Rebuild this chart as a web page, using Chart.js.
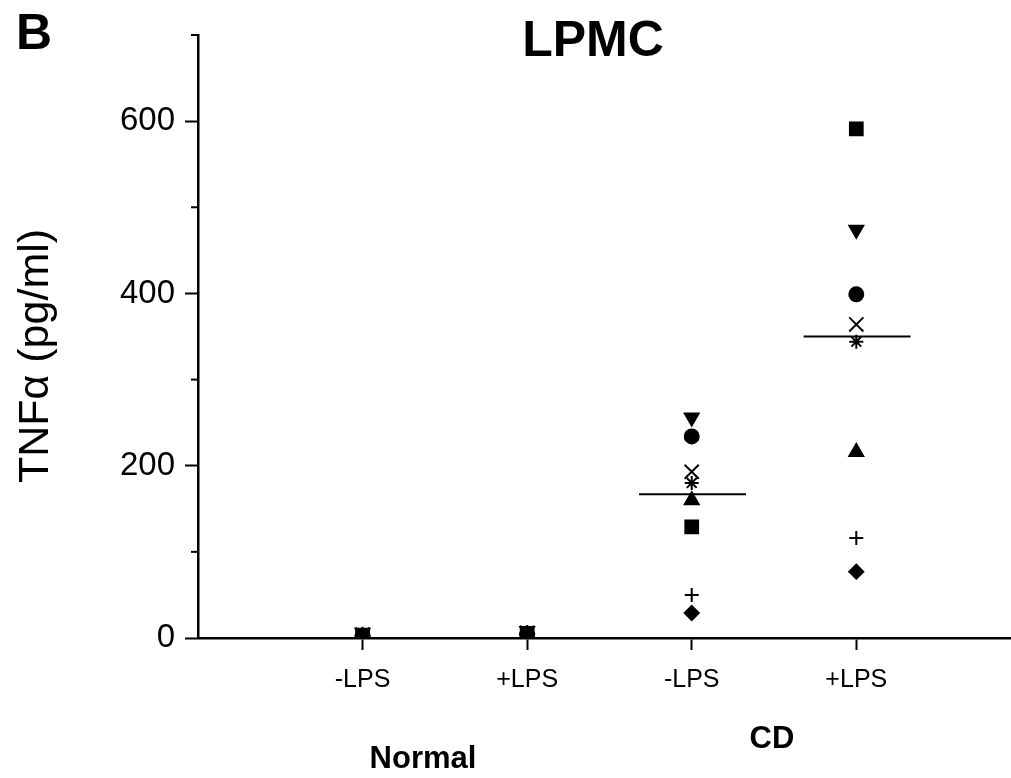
<!DOCTYPE html>
<html>
<head>
<meta charset="utf-8">
<title>LPMC TNFa</title>
<script src="https://cdn.jsdelivr.net/npm/chart.js@4.4.0/dist/chart.umd.min.js"></script>
<style>
  html, body { margin: 0; padding: 0; background: #fff; overflow: hidden; }
  #wrap { position: relative; width: 1011px; height: 778px; }
  #tnfChart { display: block; }
</style>
</head>
<body>
<div id="wrap"><canvas id="tnfChart"></canvas></div>
<script>
// x positions of the four groups and their tick labels
const groupPositions = [1, 2, 3, 4];
const groupLabels = ['-LPS', '+LPS', '-LPS', '+LPS'];

// one entry per subject (same order in every array)
const subjectStyles = ['rect', 'triangle-down', 'circle', 'crossRot', 'star', 'triangle', 'cross', 'rectRot'];
const normalMinusLPS = [3, 6, 2, 4, 5, 1, 2, 3];
const normalPlusLPS = [5, 8, 4, 6, 7, 3, 4, 5];
const cdMinusLPS = [129, 256, 234, 193, 180, 160, 50, 29];
const cdPlusLPS = [591, 474, 399, 364, 344, 216, 116, 77];

// horizontal median bars for the CD groups
const medianGroups = [3, 4];
const medianValues = [167, 350];

// y axis
const yTickValues = [0, 200, 400, 600];
const yMinorTicks = [100, 300, 500, 700];

const FONT = "'Liberation Sans', Arial, Helvetica, sans-serif";

function pointStyleFor(style) {
  if (style === 'triangle-down') return { pointStyle: 'triangle', rotation: 180 };
  return { pointStyle: style, rotation: 0 };
}

function radiusFor(style) {
  switch (style) {
    case 'rect': return 9;
    case 'triangle-down':
    case 'triangle': return 8;
    case 'circle': return 7;
    case 'rectRot': return 7;
    case 'cross': return 7;
    case 'crossRot': return 10;
    case 'star': return 7;
  }
  return 6;
}

// build one scatter dataset per subject
const subjectDatasets = subjectStyles.map((style, i) => {
  const ps = pointStyleFor(style);
  const values = [normalMinusLPS[i], normalPlusLPS[i], cdMinusLPS[i], cdPlusLPS[i]];
  return {
    label: 'Subject ' + (i + 1),
    data: values.map((v, k) => ({ x: groupPositions[k], y: v })),
    pointStyle: ps.pointStyle,
    rotation: ps.rotation,
    pointRadius: radiusFor(style),
    pointHoverRadius: radiusFor(style),
    backgroundColor: '#000',
    borderColor: '#000',
    borderWidth: 2,
    showLine: false
  };
});

// median bars, broken with a gap between groups
const medianData = [];
medianGroups.forEach((g, i) => {
  medianData.push({ x: g - 0.32, y: medianValues[i] });
  medianData.push({ x: g + 0.33, y: medianValues[i] });
  medianData.push({ x: g + 0.4, y: null });
});

const medianDataset = {
  label: 'Median',
  data: medianData,
  showLine: true,
  spanGaps: false,
  borderColor: '#000',
  borderWidth: 2,
  pointRadius: 0,
  fill: false
};

// extra texts and minor ticks
const annotations = {
  id: 'annotations',
  afterDraw(chart) {
    const ctx = chart.ctx;
    const yScale = chart.scales.y;
    const left = chart.chartArea.left;
    ctx.save();
    ctx.fillStyle = '#000';
    ctx.strokeStyle = '#000';

    // minor ticks on the y axis
    ctx.lineWidth = 2;
    yMinorTicks.forEach(v => {
      const py = yScale.getPixelForValue(v);
      ctx.beginPath();
      ctx.moveTo(left - 7, py);
      ctx.lineTo(left, py);
      ctx.stroke();
    });

    ctx.textAlign = 'center';
    ctx.textBaseline = 'middle';

    ctx.font = 'bold 50px ' + FONT;
    ctx.fillText('B', 34, 35);

    ctx.font = 'bold 50px ' + FONT;
    ctx.fillText('LPMC', 593, 42);

    ctx.font = 'bold 31px ' + FONT;
    ctx.fillText('Normal', 423, 759);
    ctx.fillText('CD', 772, 739);

    // y axis title
    ctx.save();
    ctx.translate(36, 356);
    ctx.rotate(-Math.PI / 2);
    ctx.font = '43px ' + FONT;
    ctx.fillText('TNF\u03b1 (pg/ml)', 0, 0);
    ctx.restore();

    ctx.restore();
  }
};

const chart = new Chart(document.getElementById('tnfChart'), {
  type: 'scatter',
  data: { datasets: [...subjectDatasets, medianDataset] },
  options: {
    responsive: true,
    maintainAspectRatio: false,
    animation: false,
    layout: {
      autoPadding: false,
      padding: { top: 35, right: 0, left: 0, bottom: 0 }
    },
    plugins: {
      legend: { display: false },
      tooltip: { enabled: false },
      title: { display: false }
    },
    scales: {
      x: {
        type: 'linear',
        min: 0,
        max: 4.94,
        afterBuildTicks: scale => {
          scale.ticks = groupPositions.map(v => ({ value: v }));
        },
        afterFit: scale => { scale.height = 140; },
        ticks: {
          autoSkip: false,
          maxRotation: 0,
          padding: 15,
          color: '#000',
          font: { family: FONT, size: 25 },
          callback: v => groupLabels[groupPositions.indexOf(v)] || ''
        },
        grid: {
          display: true,
          drawOnChartArea: false,
          drawTicks: true,
          tickLength: 12,
          tickWidth: 2,
          tickColor: '#000'
        },
        border: { display: true, color: '#000', width: 2.5 }
      },
      y: {
        min: 0,
        max: 700,
        afterBuildTicks: scale => {
          scale.ticks = yTickValues.map(v => ({ value: v }));
        },
        afterFit: scale => { scale.width = 198; },
        ticks: {
          padding: 10,
          color: '#000',
          font: { family: FONT, size: 33 },
          callback: v => String(v)
        },
        grid: {
          display: true,
          drawOnChartArea: false,
          drawTicks: true,
          tickLength: 13,
          tickWidth: 2,
          tickColor: '#000'
        },
        border: { display: true, color: '#000', width: 2.5 }
      }
    }
  },
  plugins: [annotations]
});
</script>
</body>
</html>
